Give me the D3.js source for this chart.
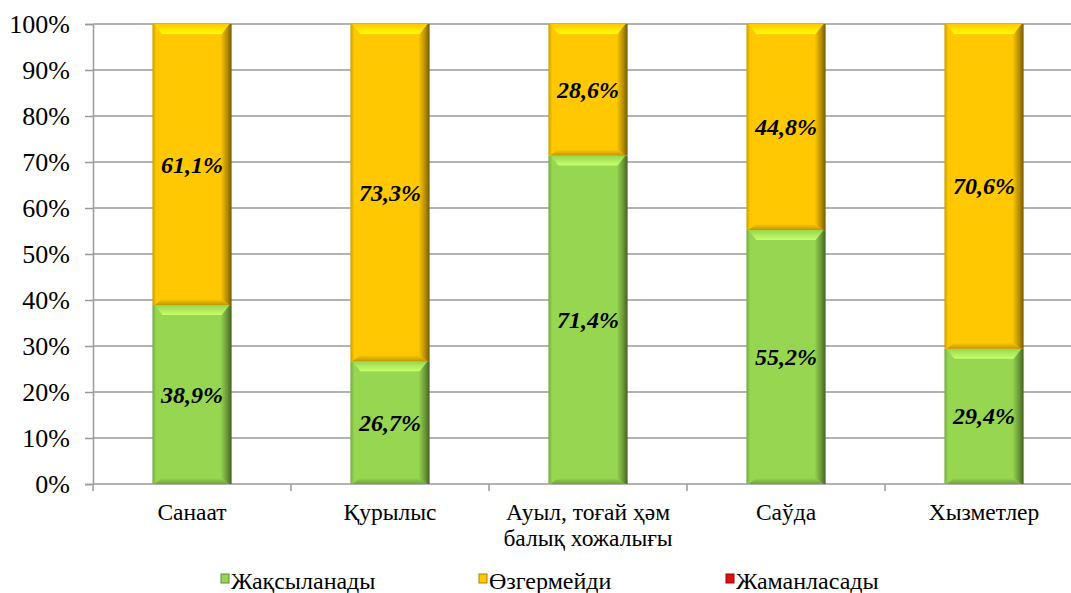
<!DOCTYPE html>
<html>
<head>
<meta charset="UTF-8">
<title>Chart</title>
<script src="https://d3js.org/d3.v7.min.js"></script>
<style>
  body { margin: 0; background: #fff; font-family: 'Liberation Serif', 'Times New Roman', serif; }
  svg, svg text, svg tspan { font-family: 'Liberation Serif', 'Times New Roman', serif !important; }
</style>
</head>
<body>
<script>
const categories = ["Санаат", "Қурылыс", "Ауыл, тоғай ҳәм\nбалық хожалығы", "Саўда", "Хызметлер"];
const seriesNames = ["Жақсыланады", "Өзгермейди", "Жаманласады"];
const better = [38.9, 26.7, 71.4, 55.2, 29.4];
const same = [61.1, 73.3, 28.6, 44.8, 70.6];
const worse = [0, 0, 0, 0, 0];
const yTicks = [0, 10, 20, 30, 40, 50, 60, 70, 80, 90, 100];

const colors = ["#96d650", "#ffc800", "#e01010"];
const width = 1071, height = 593;
const margin = { top: 24, left: 93, bottom: 109 };

const svg = d3.select("body").append("svg")
  .attr("width", width).attr("height", height)
  .attr("font-family", "Liberation Serif");

const x = d3.scaleBand().domain(categories)
  .range([margin.left, margin.left + 990]).paddingInner(0.6).paddingOuter(0.3);
const y = d3.scaleLinear().domain([0, 100]).range([height - margin.bottom, margin.top]);

// gradients for the bevelled look
const defs = svg.append("defs");
colors.forEach((c, i) => {
  const base = d3.color(c);
  const g = defs.append("linearGradient").attr("id", "g" + i).attr("x1", 0).attr("x2", 1).attr("y1", 0).attr("y2", 0);
  g.append("stop").attr("offset", "0%").attr("stop-color", base.darker(0.6));
  g.append("stop").attr("offset", "5%").attr("stop-color", base);
  g.append("stop").attr("offset", "86%").attr("stop-color", base);
  g.append("stop").attr("offset", "94%").attr("stop-color", base.darker(0.9));
  g.append("stop").attr("offset", "100%").attr("stop-color", base.darker(2.2));
  const t = defs.append("linearGradient").attr("id", "t" + i).attr("x1", 0).attr("x2", 0).attr("y1", 0).attr("y2", 1);
  t.append("stop").attr("offset", "0%").attr("stop-color", base);
  t.append("stop").attr("offset", "100%").attr("stop-color", base.brighter(0.8));
  const b = defs.append("linearGradient").attr("id", "b" + i).attr("x1", 0).attr("x2", 0).attr("y1", 0).attr("y2", 1);
  b.append("stop").attr("offset", "0%").attr("stop-color", base);
  b.append("stop").attr("offset", "100%").attr("stop-color", base.darker(0.8));
});

// grid
svg.append("g").selectAll("line").data(yTicks.filter(d => d > 0)).join("line")
  .attr("x1", margin.left).attr("x2", width)
  .attr("y1", d => y(d)).attr("y2", d => y(d))
  .attr("stroke", "#9a9a9a").attr("stroke-width", 1.5);

// y axis
const yAxis = svg.append("g").attr("transform", `translate(${margin.left},0)`)
  .call(d3.axisLeft(y).tickValues(yTicks).tickFormat(d => d + "%").tickSize(8).tickPadding(15));
yAxis.attr("font-family", null).attr("font-size", null);
yAxis.select(".domain").attr("stroke", "#9a9a9a").attr("stroke-width", 1.5);
yAxis.selectAll(".tick line").attr("stroke", "#9a9a9a").attr("stroke-width", 1.5);
yAxis.selectAll("text").attr("font-size", 26).attr("fill", "#000");

// x axis
const x0 = height - margin.bottom;
svg.append("line").attr("x1", margin.left).attr("x2", width).attr("y1", x0).attr("y2", x0)
  .attr("stroke", "#9a9a9a").attr("stroke-width", 1.5);
const step = x.step();
svg.append("g").selectAll("line").data(d3.range(categories.length + 1)).join("line")
  .attr("x1", i => margin.left + i * step).attr("x2", i => margin.left + i * step)
  .attr("y1", x0).attr("y2", x0 + 7)
  .attr("stroke", "#9a9a9a").attr("stroke-width", 1.5);

const catText = svg.append("g").selectAll("text").data(categories).join("text")
  .attr("x", d => x(d) + x.bandwidth() / 2).attr("y", x0 + 36)
  .attr("text-anchor", "middle").attr("font-size", 23.5);
catText.each(function (d) {
  d3.select(this).selectAll("tspan").data(d.split("\n")).join("tspan")
    .attr("x", x(d) + x.bandwidth() / 2).attr("dy", (t, i) => i ? 26 : 0).text(t => t);
});

// stacked segments
const series = [better, same, worse];
const rows = categories.map((c, i) => ({ cat: c, v: series.map(s => s[i]) }));
rows.forEach(r => {
  let acc = 0;
  r.v.forEach((v, si) => {
    if (v <= 0) return;
    const y1 = y(acc + v), y2 = y(acc);
    const bx = x(r.cat), bw = x.bandwidth(), h = y2 - y1;
    const g = svg.append("g");
    g.append("rect").attr("x", bx).attr("y", y1).attr("width", bw).attr("height", h)
      .attr("fill", `url(#g${si})`);
    const bev = 10;
    // top bevel
    g.append("path").attr("d", `M${bx + 2},${y1}L${bx + bw - 2},${y1}L${bx + bw - bev},${y1 + bev}L${bx + bev},${y1 + bev}Z`)
      .attr("fill", `url(#t${si})`);
    // bottom bevel
    g.append("path").attr("d", `M${bx + 2},${y2}L${bx + bw - 2},${y2}L${bx + bw - bev},${y2 - 6}L${bx + bev},${y2 - 6}Z`)
      .attr("fill", `url(#b${si})`);
    g.append("text").attr("x", bx + bw / 2).attr("y", (y1 + y2) / 2 + 8)
      .attr("text-anchor", "middle").attr("font-size", 24).attr("font-weight", "bold")
      .attr("font-style", "italic")
      .text(v.toFixed(1).replace(".", ",") + "%");
    acc += v;
  });
});

// legend
const legX = [221, 479, 726];
const leg = svg.append("g").selectAll("g").data(seriesNames).join("g")
  .attr("transform", (d, i) => `translate(${legX[i]},${height - 4})`);
leg.append("rect").attr("x", 0).attr("y", -15).attr("width", 8).attr("height", 9)
  .attr("fill", (d, i) => colors[i]).attr("stroke", (d, i) => d3.color(colors[i]).darker(1.2)).attr("stroke-width", 1);
leg.append("text").attr("x", 10).attr("y", 0).attr("font-size", 24).text(d => d);
</script>
</body>
</html>
